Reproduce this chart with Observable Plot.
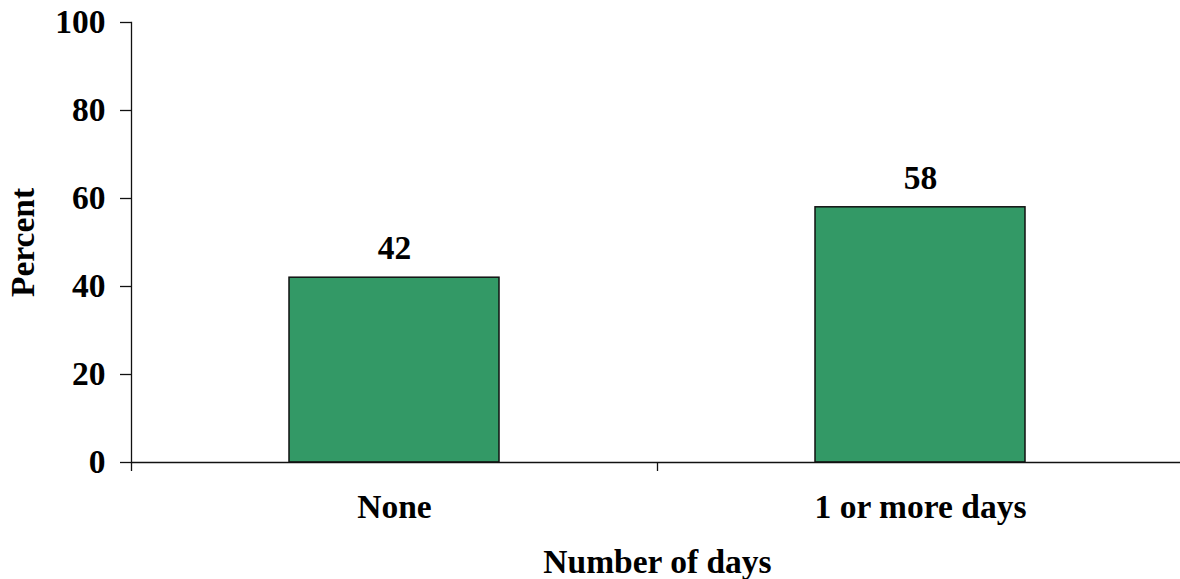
<!DOCTYPE html>
<html>
<head>
<meta charset="utf-8">
<script src="https://cdn.jsdelivr.net/npm/d3@7"></script>
<script src="https://cdn.jsdelivr.net/npm/@observablehq/plot@0.6"></script>
<style>
  html, body { margin: 0; padding: 0; background: #fff; }
  #chart svg { display: block; }
</style>
</head>
<body>
<div id="chart"></div>
<script>
const categories = ["None", "1 or more days"];
const percents = [42, 58];
const yTicks = [0, 20, 40, 60, 80, 100];
const xTitle = "Number of days";
const yTitle = "Percent";

const data = categories.map((c, i) => ({category: c, value: percents[i]}));

const axisColor = "#111";
const chart = Plot.plot({
  width: 1180,
  height: 579,
  marginTop: 22,
  marginBottom: 117,
  marginLeft: 131,
  marginRight: 0,
  style: {
    fontFamily: "'Liberation Serif', 'Times New Roman', serif",
    fontWeight: "bold",
    fontSize: "33.5px",
    color: "#000",
    background: "#fff"
  },
  x: {type: "band", domain: categories, range: [131, 1183], paddingInner: 0.6, paddingOuter: 0.3},
  y: {domain: [0, 100]},
  marks: [
    Plot.barY(data, {x: "category", y: "value", fill: "#339966", stroke: "#111", strokeWidth: 1.5}),
    Plot.ruleY([0], {stroke: axisColor, strokeWidth: 1.3}),
    Plot.frame({anchor: "left", stroke: axisColor, strokeWidth: 1.3}),
    Plot.axisY({ticks: yTicks, tickSize: 11, tickPadding: 15, stroke: axisColor, strokeWidth: 1.3, label: null, fill: "#000"}),
    Plot.axisX({tickSize: 0, tickPadding: 32, label: null, fill: "#000"}),
    Plot.axisX({tickSize: 9, tickFormat: () => "", dx: -263, stroke: axisColor, strokeWidth: 1.3, label: null}),
    Plot.text(data, {x: "category", y: "value", text: d => String(d.value), lineAnchor: "bottom", dy: -18.5, fill: "#000"}),
    Plot.text([yTitle], {frameAnchor: "left", rotate: -90, textAnchor: "middle", lineAnchor: "bottom", dx: -98, fill: "#000"}),
    Plot.text([xTitle], {frameAnchor: "bottom", textAnchor: "middle", lineAnchor: "bottom", dy: 110, dx: 1.5, fill: "#000"})
  ]
});
document.getElementById("chart").appendChild(chart);
</script>
</body>
</html>
